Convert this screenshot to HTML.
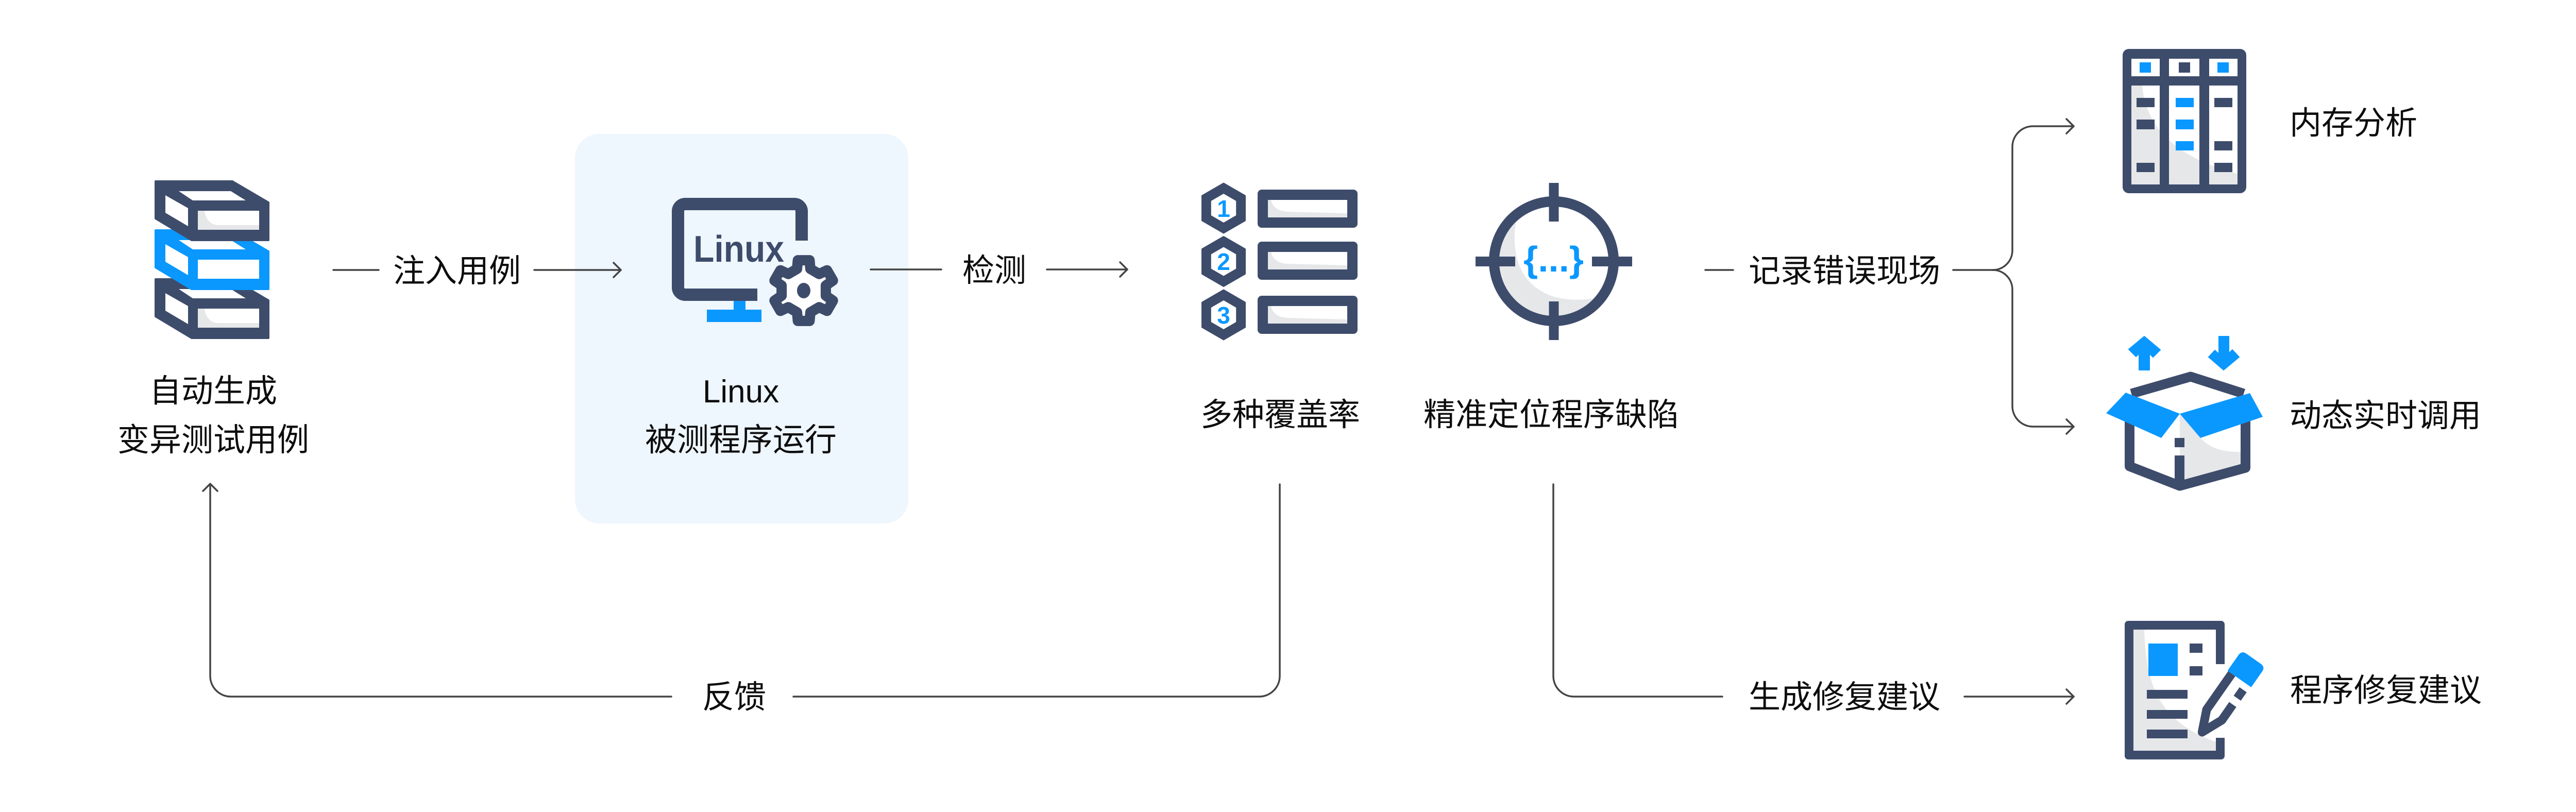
<!DOCTYPE html>
<html>
<head>
<meta charset="utf-8">
<style>
html,body{margin:0;padding:0;background:#fff;}
svg{display:block;}
.t{font-family:"Liberation Sans","Noto Sans CJK SC",sans-serif;font-size:62px;fill:#0d0d0d;}
</style>
</head>
<body>
<svg width="5040" height="1576" viewBox="0 0 5040 1576" xmlns="http://www.w3.org/2000/svg">
<defs>
  <clipPath id="tgc"><circle cx="3016" cy="507" r="106"/></clipPath>
  <clipPath id="memc"><rect x="4137" y="166" width="206" height="192"/></clipPath>
</defs>
<rect width="5040" height="1576" fill="#fff"/>

<!-- Linux box background -->
<rect x="1116" y="260" width="647" height="756" rx="47" fill="#EEF6FE"/>

<!-- connectors -->
<g stroke="#444" stroke-width="3.5" fill="none" stroke-linecap="round" stroke-linejoin="round">
  <path d="M647,524 H735"/>
  <path d="M1037,524 H1205"/>
  <path d="M1191,510 L1205,524 L1191,538"/>
  <path d="M1690,523 H1827"/>
  <path d="M2032,523 H2188"/>
  <path d="M2174,509 L2188,523 L2174,537"/>
  <path d="M3310,524 H3364"/>
  <path d="M3791,524 H3868"/>
  <path d="M3868,524 A38,38 0 0 0 3906,486 V285 A40,40 0 0 1 3946,245 H4025"/>
  <path d="M4011,231 L4025,245 L4011,259"/>
  <path d="M3868,524 A38,38 0 0 1 3906,562 V788 A40,40 0 0 0 3946,828 H4025"/>
  <path d="M4011,814 L4025,828 L4011,842"/>
  <path d="M408,942 V1312 A40,40 0 0 0 448,1352 H1303"/>
  <path d="M394,953 L408,939 L422,953"/>
  <path d="M1540,1352 H2444 A40,40 0 0 0 2484,1312 V940"/>
  <path d="M3015,940 V1312 A40,40 0 0 0 3055,1352 H3343"/>
  <path d="M3813,1352 H4025"/>
  <path d="M4011,1338 L4025,1352 L4011,1366"/>
</g>

<!-- stacked boxes icon -->
<g transform="translate(302,542)">
  <polygon points="0,0 149,0 219,41 219,114 70,114 0,72" fill="#3E4C6B" stroke="#3E4C6B" stroke-width="4" stroke-linejoin="round"/>
  <polygon points="45,19 146,19 175,37 72,37" fill="#fff"/>
  <polygon points="19,27 63,52 63,87 19,61" fill="#fff"/>
  <rect x="82" y="57" width="119" height="37" fill="#fff"/>
  <path d="M82,57 L95,57 Q99,85 124,85 L201,85 L201,94 L82,94 Z" fill="#E6E7E9"/>
</g>
<g transform="translate(302,447)">
  <polygon points="0,0 149,0 219,41 219,114 70,114 0,72" fill="#0A98FF" stroke="#0A98FF" stroke-width="4" stroke-linejoin="round"/>
  <polygon points="45,19 146,19 175,37 72,37" fill="#fff"/>
  <polygon points="19,27 63,52 63,87 19,61" fill="#fff"/>
  <rect x="82" y="57" width="119" height="37" fill="#fff"/>
</g>
<g transform="translate(302,352)">
  <polygon points="0,0 149,0 219,41 219,114 70,114 0,72" fill="#3E4C6B" stroke="#3E4C6B" stroke-width="4" stroke-linejoin="round"/>
  <polygon points="45,19 146,19 175,37 72,37" fill="#fff"/>
  <polygon points="19,27 63,52 63,87 19,61" fill="#fff"/>
  <rect x="82" y="57" width="119" height="37" fill="#fff"/>
  <path d="M82,57 L95,57 Q99,85 124,85 L201,85 L201,94 L82,94 Z" fill="#E6E7E9"/>
</g>

<!-- monitor + gear -->
<path d="M1556,467 V410 A14,14 0 0 0 1542,396 H1330 A14,14 0 0 0 1316,410 V558 A14,14 0 0 0 1330,572 H1470" stroke="#3E4C6B" stroke-width="24" fill="none"/>
<rect x="1424" y="584" width="23" height="18" fill="#0A98FF"/>
<rect x="1372" y="601" width="106" height="24" fill="#0A98FF"/>
<text x="1346" y="508" font-family="Liberation Sans, sans-serif" font-weight="bold" font-size="72" fill="#3E4C6B" textLength="176" lengthAdjust="spacingAndGlyphs">Linux</text>
<polygon points="1547.1,521.9 1548.6,505.1 1571.4,505.1 1572.9,521.9 1590.0,531.8 1605.3,524.6 1616.7,544.5 1602.9,554.1 1602.9,573.9 1616.7,583.5 1605.3,603.4 1590.0,596.2 1572.9,606.1 1571.4,622.9 1548.6,622.9 1547.1,606.1 1530.0,596.2 1514.7,603.4 1503.3,583.5 1517.1,573.9 1517.1,554.1 1503.3,544.5 1514.7,524.6 1530.0,531.8" fill="#fff" stroke="#3E4C6B" stroke-width="20" stroke-linejoin="round"/>
<ellipse cx="1560" cy="564" rx="13" ry="15" fill="#3E4C6B"/>

<!-- coverage icon -->
<g fill="#3E4C6B" stroke="#3E4C6B" stroke-width="3" stroke-linejoin="round">
  <polygon transform="translate(2375,404)" points="0,-48 41.5,-24 41.5,24 0,48 -41.5,24 -41.5,-24"/>
  <polygon transform="translate(2375,507.5)" points="0,-48 41.5,-24 41.5,24 0,48 -41.5,24 -41.5,-24"/>
  <polygon transform="translate(2375,611)" points="0,-48 41.5,-24 41.5,24 0,48 -41.5,24 -41.5,-24"/>
</g>
<g fill="#fff">
  <polygon transform="translate(2375,404)" points="0,-28 24.2,-14 24.2,14 0,28 -24.2,14 -24.2,-14"/>
  <polygon transform="translate(2375,507.5)" points="0,-28 24.2,-14 24.2,14 0,28 -24.2,14 -24.2,-14"/>
  <polygon transform="translate(2375,611)" points="0,-28 24.2,-14 24.2,14 0,28 -24.2,14 -24.2,-14"/>
</g>
<g font-family="Liberation Sans, sans-serif" font-weight="bold" font-size="46" fill="#0A98FF" text-anchor="middle">
  <text x="2375" y="421">1</text>
  <text x="2375" y="524">2</text>
  <text x="2375" y="628">3</text>
</g>
<g>
  <rect x="2441" y="368" width="194" height="74" rx="8" fill="#3E4C6B"/>
  <rect x="2461" y="388" width="154" height="34" fill="#fff"/>
  <path d="M2461,388 L2467,388 Q2472,410 2500,411 L2615,414 L2615,422 L2461,422 Z" fill="#E6E7E9"/>
  <rect x="2441" y="469" width="194" height="74" rx="8" fill="#3E4C6B"/>
  <rect x="2461" y="489" width="154" height="34" fill="#fff"/>
  <path d="M2461,489 L2467,489 Q2472,511 2500,512 L2615,515 L2615,523 L2461,523 Z" fill="#E6E7E9"/>
  <rect x="2441" y="574" width="194" height="74" rx="8" fill="#3E4C6B"/>
  <rect x="2461" y="594" width="154" height="34" fill="#fff"/>
  <path d="M2461,594 L2467,594 Q2472,616 2500,617 L2615,620 L2615,628 L2461,628 Z" fill="#E6E7E9"/>
</g>

<!-- target icon -->
<circle cx="3016" cy="507" r="116" fill="#fff" stroke="#3E4C6B" stroke-width="20"/>
<path clip-path="url(#tgc)" d="M2890,370 L2945,420 C2922,520 2975,600 3100,578 L3160,660 L2870,670 Z" fill="#E6E7E9"/>
<g fill="#3E4C6B">
  <rect x="3006.5" y="355" width="19" height="75"/>
  <rect x="3006.5" y="585" width="19" height="75"/>
  <rect x="2864" y="498" width="77" height="19"/>
  <rect x="3090" y="498" width="78" height="19"/>
</g>
<text x="2957" y="527" font-family="Liberation Sans, sans-serif" font-weight="bold" font-size="70" fill="#0A98FF" textLength="117" lengthAdjust="spacingAndGlyphs">{...}</text>

<!-- memory icon -->
<rect x="4120" y="95" width="240" height="280" rx="12" fill="#3E4C6B"/>
<rect x="4137" y="114" width="206" height="244" fill="#fff"/>
<path clip-path="url(#memc)" d="M4137,166 L4158,166 C4165,245 4220,305 4343,337 L4343,358 L4137,358 Z" fill="#E6E7E9"/>
<g fill="#3E4C6B">
  <rect x="4137" y="148" width="206" height="18"/>
  <rect x="4192" y="114" width="18" height="244"/>
  <rect x="4269" y="114" width="19" height="244"/>
  <rect x="4229" y="121" width="22" height="20"/>
  <rect x="4147" y="190" width="35" height="18"/>
  <rect x="4147" y="232" width="35" height="19"/>
  <rect x="4147" y="316" width="35" height="18"/>
  <rect x="4298" y="190" width="35" height="18"/>
  <rect x="4298" y="274" width="35" height="18"/>
  <rect x="4298" y="316" width="35" height="18"/>
</g>
<g fill="#0A98FF">
  <rect x="4153" y="121" width="22" height="20"/>
  <rect x="4304" y="121" width="22" height="20"/>
  <rect x="4223" y="190" width="35" height="18"/>
  <rect x="4223" y="232" width="35" height="19"/>
  <rect x="4223" y="274" width="35" height="18"/>
</g>

<!-- open box icon -->
<path d="M4231,803 L4271,850 C4290,870 4312,877 4349,877 L4349,901 L4240,932 L4231,932 Z" fill="#E6E7E9"/>
<path d="M4133.5,790 V905 L4231,943 L4358.5,908 V790" fill="none" stroke="#3E4C6B" stroke-width="19" stroke-linejoin="round"/>
<path d="M4137,764 L4252,731 L4355,764" fill="none" stroke="#3E4C6B" stroke-width="19" stroke-linejoin="round"/>
<polygon points="4088,802 4126,762 4231,803 4195,850" fill="#0A98FF"/>
<polygon points="4231,803 4367,763 4392,809 4271,850" fill="#0A98FF"/>
<rect x="4221" y="850" width="19" height="18" fill="#3E4C6B"/>
<rect x="4221" y="884" width="19" height="60" fill="#3E4C6B"/>
<polygon points="4162,653 4193,679 4179,693 4172,686 4172,718 4152,718 4152,686 4146,692 4132,678" fill="#0A98FF" stroke="#0A98FF" stroke-width="2" stroke-linejoin="round"/>
<polygon points="4307,653 4326,653 4326,686 4333,679 4346,693 4316,718 4287,693 4299,680 4307,687" fill="#0A98FF" stroke="#0A98FF" stroke-width="2" stroke-linejoin="round"/>

<!-- document + pencil icon -->
<rect x="4124" y="1205" width="194" height="269" rx="7" fill="#3E4C6B"/>
<rect x="4141" y="1222" width="160" height="235" fill="#fff"/>
<rect x="4301" y="1289" width="18" height="143" fill="#fff"/>
<path d="M4141,1222 L4162,1222 C4165,1330 4190,1400 4301,1440 L4301,1457 L4141,1457 Z" fill="#E6E7E9"/>
<rect x="4170" y="1249" width="57" height="63" fill="#0A98FF"/>
<g fill="#3E4C6B">
  <rect x="4250" y="1249" width="25" height="18"/>
  <rect x="4250" y="1293" width="25" height="18"/>
  <rect x="4167" y="1339" width="79" height="17"/>
  <rect x="4167" y="1378" width="79" height="17"/>
  <rect x="4167" y="1416" width="79" height="17"/>
</g>
<g transform="translate(4268,1430) rotate(35)">
  <path d="M-26,-137 L-26,-52 L0,-2 L26,-52 L26,-137 Z" fill="#fff"/>
  <path d="M-18,-137 L-18,-52 L0,-11 L18,-52 L18,-89" fill="none" stroke="#3E4C6B" stroke-width="17" stroke-linejoin="round"/>
  <path d="M18,-124 L18,-104" fill="none" stroke="#3E4C6B" stroke-width="17"/>
  <path d="M-28,-137 L-28,-174 Q-28,-185 -17,-185 L17,-185 Q28,-185 28,-174 L28,-137 Z" fill="#0A98FF"/>
</g>

<!-- labels -->
<g class="t">
  <text x="414" y="780" text-anchor="middle">自动生成</text>
  <text x="414" y="875" text-anchor="middle">变异测试用例</text>
  <text x="887" y="547" text-anchor="middle">注入用例</text>
  <text x="1438" y="781" text-anchor="middle">Linux</text>
  <text x="1438" y="875" text-anchor="middle">被测程序运行</text>
  <text x="1930" y="546" text-anchor="middle">检测</text>
  <text x="2485" y="826" text-anchor="middle">多种覆盖率</text>
  <text x="3011" y="826" text-anchor="middle">精准定位程序缺陷</text>
  <text x="3580" y="547" text-anchor="middle">记录错误现场</text>
  <text x="4444" y="260">内存分析</text>
  <text x="4444" y="828">动态实时调用</text>
  <text x="4445" y="1361">程序修复建议</text>
  <text x="3580" y="1374" text-anchor="middle">生成修复建议</text>
  <text x="1425" y="1374" text-anchor="middle">反馈</text>
</g>
</svg>
</body>
</html>
